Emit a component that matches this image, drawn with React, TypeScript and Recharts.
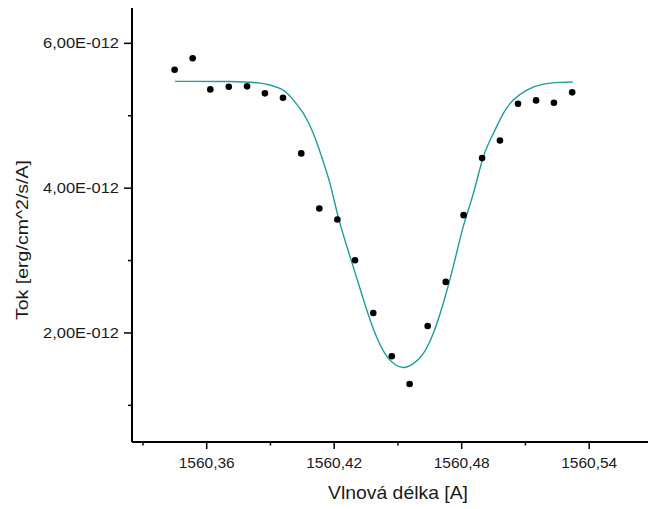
import React from 'react';
import { ComposedChart, Line, Scatter, XAxis, YAxis, Label } from 'recharts';

// Observed points: wavelength [A], flux [1e-12 erg/cm^2/s/A]
const obsWavelength = [
  1560.3449, 1560.3534, 1560.3617, 1560.3704, 1560.379, 1560.3874, 1560.3959, 1560.4045,
  1560.413, 1560.4215, 1560.4298, 1560.4384, 1560.4471, 1560.4555, 1560.464, 1560.4725,
  1560.4809, 1560.4896, 1560.498, 1560.5065, 1560.515, 1560.5234, 1560.532,
];
const obsFlux = [
  5.635, 5.793, 5.364, 5.4, 5.406, 5.309, 5.248, 4.48,
  3.719, 3.567, 3.005, 2.276, 1.678, 1.295, 2.097, 2.705,
  3.627, 4.415, 4.659, 5.165, 5.212, 5.179, 5.323,
];

// Fitted profile
const fitWavelength = [
  1560.3451, 1560.371, 1560.3851, 1560.3898, 1560.396, 1560.4008, 1560.4055, 1560.4102,
  1560.4141, 1560.418, 1560.4218, 1560.4259, 1560.4306, 1560.4353, 1560.44, 1560.4447,
  1560.4486, 1560.4525, 1560.4572, 1560.4619, 1560.4666, 1560.4713, 1560.476, 1560.4808,
  1560.4855, 1560.4902, 1560.4949, 1560.4996, 1560.5043, 1560.5106, 1560.5184, 1560.5263,
  1560.5322,
];
const fitFlux = [
  5.475, 5.472, 5.451, 5.424, 5.355, 5.216, 5.032, 4.756,
  4.433, 4.065, 3.613, 3.2, 2.76, 2.32, 1.94, 1.68,
  1.565, 1.522, 1.577, 1.715, 1.992, 2.406, 2.912, 3.475,
  3.927, 4.433, 4.756, 5.032, 5.216, 5.355, 5.437, 5.461,
  5.465,
];

const xTicks = [1560.33, 1560.36, 1560.39, 1560.42, 1560.45, 1560.48, 1560.51, 1560.54, 1560.57];
const xTickLabels = ['', '1560,36', '', '1560,42', '', '1560,48', '', '1560,54', ''];
const yTicks = [1, 2, 3, 4, 5, 6];
const yTickLabels = ['', '2,00E-012', '', '4,00E-012', '', '6,00E-012'];

const xTitle = 'Vlnová délka [A]';
const yTitle = 'Tok [erg/cm^2/s/A]';

const obsData = obsWavelength.map((x, i) => ({ x, y: obsFlux[i] }));
const fitData = fitWavelength.map((x, i) => ({ x, y: fitFlux[i] }));

const FONT = '"Liberation Sans", Arial, sans-serif';
const TEAL = '#1f9d9d';

const findLabel = (vals: number[], labels: string[], v: number) => {
  let best = 0;
  for (let i = 0; i < vals.length; i++) {
    if (Math.abs(vals[i] - v) < Math.abs(vals[best] - v)) best = i;
  }
  return labels[best];
};

const XTick = (props: any) => {
  const { x, y, payload } = props;
  const label = findLabel(xTicks, xTickLabels, payload.value);
  const major = label !== '';
  return (
    <g>
      <line x1={x} x2={x} y1={y} y2={y + (major ? 7 : 3.5)} stroke="#000" strokeWidth={1.5} />
      {major && (
        <text
          x={x}
          y={y + 26}
          textAnchor="middle"
          fontSize={14.5}
          fontFamily={FONT}
          fill="#1a1a1a"
          textLength={56}
          lengthAdjust="spacingAndGlyphs"
        >
          {label}
        </text>
      )}
    </g>
  );
};

const YTick = (props: any) => {
  const { x, y, payload } = props;
  const label = findLabel(yTicks, yTickLabels, payload.value);
  const major = label !== '';
  return (
    <g>
      <line x1={x} x2={x - (major ? 8 : 4)} y1={y} y2={y} stroke="#000" strokeWidth={1.5} />
      {major && (
        <text
          x={x - 13}
          y={y + 5}
          textAnchor="end"
          fontSize={14.5}
          fontFamily={FONT}
          fill="#1a1a1a"
          textLength={76}
          lengthAdjust="spacingAndGlyphs"
        >
          {label}
        </text>
      )}
    </g>
  );
};

const Dot = (props: any) => {
  const { cx, cy } = props;
  if (cx == null || cy == null) return null;
  return <circle cx={cx} cy={cy} r={3.3} fill="#000" />;
};

export default function App() {
  return (
    <ComposedChart width={648} height={501} margin={{ top: 0, right: 0, bottom: 0, left: 0 }}>
      <XAxis
        type="number"
        dataKey="x"
        domain={[1560.32485, 1560.57144]}
        allowDataOverflow
        ticks={xTicks}
        interval={0}
        tick={<XTick />}
        tickLine={false}
        tickSize={0}
        tickMargin={0}
        axisLine={{ stroke: '#000', strokeWidth: 2 }}
        height={67}
      >
        <Label
          content={() => (
            <text
              x={390}
              y={491}
              textAnchor="middle"
              fontSize={18.5}
              fontFamily={FONT}
              fill="#1a1a1a"
              textLength={140}
              lengthAdjust="spacingAndGlyphs"
            >
              {xTitle}
            </text>
          )}
        />
      </XAxis>
      <YAxis
        type="number"
        dataKey="y"
        domain={[0.494, 6.488]}
        allowDataOverflow
        ticks={yTicks}
        interval={0}
        tick={<YTick />}
        tickLine={false}
        tickSize={0}
        tickMargin={0}
        axisLine={{ stroke: '#000', strokeWidth: 2 }}
        width={124}
      >
        <Label
          content={() => (
            <text
              x={19.5}
              y={232}
              transform="rotate(-90 19.5 232)"
              textAnchor="middle"
              fontSize={17}
              fontFamily={FONT}
              fill="#1a1a1a"
              textLength={160}
              lengthAdjust="spacingAndGlyphs"
            >
              {yTitle}
            </text>
          )}
        />
      </YAxis>
      <Line
        data={fitData}
        dataKey="y"
        type="natural"
        stroke={TEAL}
        strokeWidth={1.4}
        dot={false}
        activeDot={false}
        isAnimationActive={false}
      />
      <Scatter data={obsData} dataKey="y" shape={<Dot />} fill="#000" isAnimationActive={false} />
    </ComposedChart>
  );
}
